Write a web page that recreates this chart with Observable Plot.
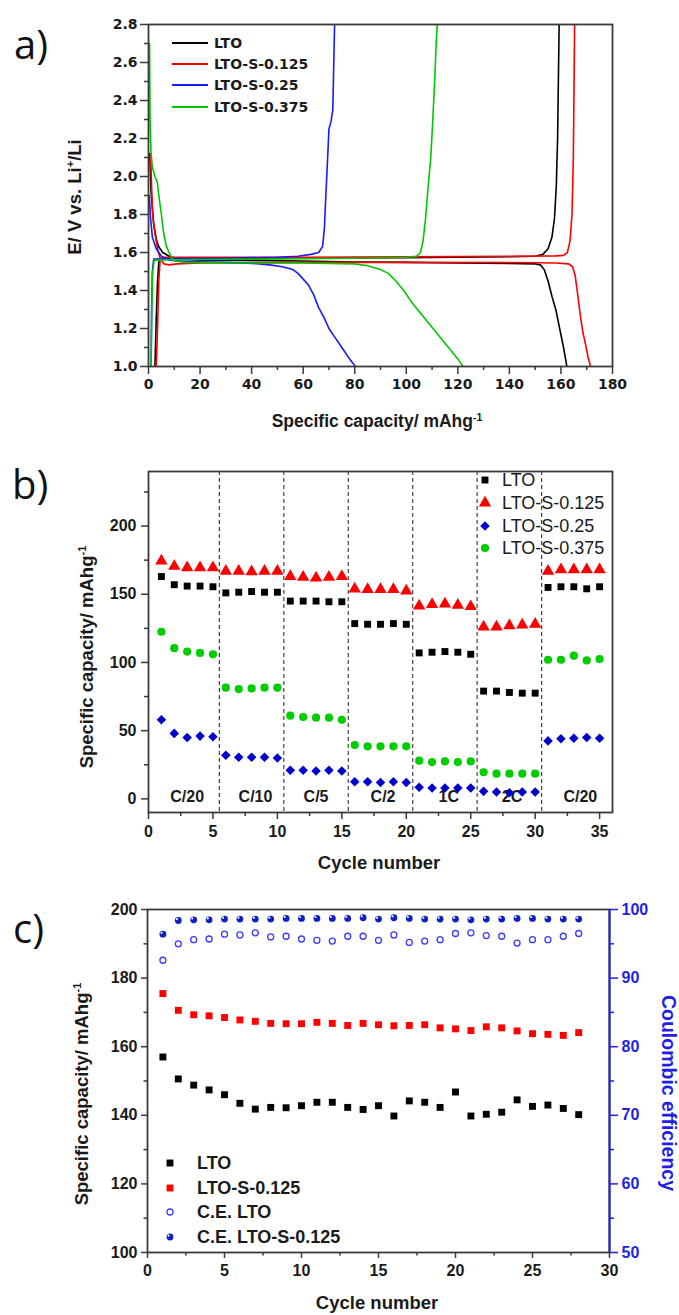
<!DOCTYPE html>
<html><head><meta charset="utf-8">
<script src="https://cdn.jsdelivr.net/npm/d3@7"></script>
<script src="https://cdn.jsdelivr.net/npm/@observablehq/plot@0.6"></script>
<style>
body{margin:0;background:#fff;}
#wrap{position:relative;width:679px;height:1315px;overflow:hidden;background:#fff;font-family:"Liberation Sans",Arial,sans-serif;color:#1a1a1a;}
.abs{position:absolute;white-space:nowrap;line-height:1;}
sup{font-size:0.6em;vertical-align:0.6em;line-height:0;}
</style></head>
<body><div id="wrap"></div>
<script>
// ---------------- Panel a: charge/discharge curves [capacity mAh/g, voltage V] ----------------
const ltoDischarge = [[0.5,2.12],[1,1.92],[2,1.75],[3,1.67],[4,1.63],[5.5,1.6],[8,1.58],[12,1.565],[20,1.56],[40,1.558],[60,1.555],[80,1.55],[100,1.548],[120,1.545],[140,1.542],[150,1.54],[152,1.535],[153.5,1.51],[155,1.45],[156.5,1.37],[158,1.3],[159.5,1.2],[161,1.1],[162.3,1.0]];
const ltoCharge = [[2.5,1.0],[3,1.25],[3.5,1.45],[4,1.55],[5,1.57],[20,1.568],[60,1.57],[100,1.572],[120,1.575],[140,1.578],[150,1.58],[153,1.59],[155,1.62],[156.5,1.68],[157.5,1.78],[158.2,1.95],[158.7,2.2],[159,2.5],[159.3,2.8]];
const s0125Discharge = [[0.8,2.12],[1.2,1.95],[1.6,1.8],[2.5,1.7],[3.5,1.62],[4.5,1.57],[6,1.54],[8,1.535],[11,1.54],[20,1.545],[60,1.548],[100,1.548],[140,1.547],[158,1.545],[163,1.54],[164.5,1.525],[165.5,1.48],[166.5,1.38],[167.5,1.27],[168.5,1.18],[169.5,1.12],[170.5,1.05],[171.5,1.0]];
const s0125Charge = [[3,1.0],[3.5,1.2],[4,1.45],[4.5,1.56],[6,1.575],[20,1.575],[60,1.575],[100,1.577],[140,1.58],[158,1.582],[161,1.585],[162.5,1.6],[163.5,1.66],[164.3,1.8],[164.8,2.1],[165.1,2.5],[165.3,2.8]];
const s025Discharge = [[0.3,1.9],[0.8,1.78],[1.5,1.68],[3,1.62],[5,1.58],[8,1.56],[15,1.553],[30,1.548],[40,1.543],[47,1.535],[52,1.525],[56,1.51],[58,1.49],[60,1.46],[62,1.43],[64,1.38],[66,1.31],[68,1.26],[70,1.2],[72,1.16],[75,1.1],[78,1.04],[80.3,1.0]];
const s025Charge = [[1,1.0],[1.2,1.3],[1.5,1.5],[2,1.565],[10,1.568],[30,1.57],[50,1.575],[58,1.58],[63,1.59],[66,1.6],[67.5,1.63],[68.2,1.72],[68.8,1.9],[69.5,2.1],[70,2.25],[70.8,2.29],[71.5,2.35],[71.8,2.55],[72.2,2.8]];
const s0375Discharge = [[0.4,2.7],[0.6,2.3],[1,2.12],[1.5,2.05],[2.5,2.0],[3.4,1.97],[4.2,1.88],[5,1.8],[5.9,1.7],[7,1.63],[8,1.6],[9,1.57],[10.5,1.555],[14,1.548],[30,1.545],[60,1.545],[80,1.54],[85,1.53],[90,1.51],[93,1.49],[96,1.45],[99,1.4],[102,1.34],[105,1.29],[108,1.24],[111,1.19],[114,1.14],[117,1.09],[120,1.04],[122,1.0]];
const s0375Charge = [[1,1.0],[1.3,1.3],[1.6,1.5],[2.2,1.56],[10,1.562],[40,1.565],[80,1.57],[100,1.575],[104,1.58],[105.5,1.6],[106.5,1.66],[107.5,1.78],[108.5,1.95],[109.5,2.1],[110.3,2.3],[111,2.5],[111.6,2.7],[112,2.8]];
const seriesNames = ["LTO","LTO-S-0.125","LTO-S-0.25","LTO-S-0.375"];
const aTicksX = [0,20,40,60,80,100,120,140,160,180];
const aMinorX = [10,30,50,70,90,110,130,150,170];
const aTicksY = [1.0,1.2,1.4,1.6,1.8,2.0,2.2,2.4,2.6,2.8];
const aMinorY = [1.1,1.3,1.5,1.7,1.9,2.1,2.3,2.5,2.7];

// ---------------- Panel b: rate capability ----------------
const cyclesB = [1,2,3,4,5,6,7,8,9,10,11,12,13,14,15,16,17,18,19,20,21,22,23,24,25,26,27,28,29,30,31,32,33,34,35];
const bLTO = [163,157,156,156,155.5,151,151.5,152,151.5,151.5,145,145,145,144.5,144.5,128.5,128,128,128.5,128,107,107.5,108,107.5,106,79,79,78,77.5,77.5,155,155.5,155.5,154,155.5];
const bS0125 = [174.5,170.5,169.5,169.5,169.5,167,167,166.5,167,167,163,162.5,162,162.5,163,154,153.5,153.5,153.5,152.5,141.5,142.5,143,142,141,126,126,127,127.5,128,167,168,168,168,168];
const bS025 = [58,48,45,46,45.5,32,30.5,30.5,30.5,30,21,21,20.5,21,20.5,12.5,12.5,12,12.5,12,8.5,8,8,8,8,5.5,5,4.5,5,5,42.5,44,44.5,45,44.5];
const bS0375 = [122.5,110.5,108,107,106,81.5,80.5,81,81.5,81.5,61,60,59.5,59.5,58,39.5,38.5,38.5,38.5,38.5,28,27,27.5,27,27.5,19.5,18.5,18.5,18.5,18.5,102,102,105,101.5,102.5];
const rateLabels = ["C/20","C/10","C/5","C/2","1C","2C","C/20"];
const rateLabelX = [3,8.3,13,18.2,23.3,28.2,33.5];
const rateBoundaries = [5.5,10.5,15.5,20.5,25.5,30.5];
const bTicksX = [0,5,10,15,20,25,30,35];
const bMinorX = [2.5,7.5,12.5,17.5,22.5,27.5,32.5];
const bTicksY = [0,50,100,150,200];
const bMinorY = [25,75,125,175,225];

// ---------------- Panel c: cycling + coulombic efficiency ----------------
const cyclesC = [1,2,3,4,5,6,7,8,9,10,11,12,13,14,15,16,17,18,19,20,21,22,23,24,25,26,27,28];
const cLTO = [157,150.6,148.8,147.4,146,143.5,141.8,142.3,142.2,142.8,143.8,143.8,142.3,141.7,142.8,139.8,144.2,143.8,142.3,146.8,139.8,140.3,140.9,144.5,142.6,143,142,140.2];
const cS0125 = [175.5,170.6,169.3,169,168.5,167.8,167.4,166.8,166.7,166.7,167.1,166.8,166.2,166.8,166.4,166.1,166.2,166.4,165.5,165.2,164.7,165.8,165.5,164.6,163.8,163.6,163.3,164.1];
const cCE_LTO = [92.6,95.0,95.6,95.7,96.4,96.3,96.6,96.0,96.1,95.7,95.5,95.4,96.1,96.1,95.5,96.3,95.2,95.4,95.6,96.5,96.6,96.2,96.1,95.1,95.6,95.6,96.1,96.5];
const cCE_S0125 = [96.4,98.4,98.5,98.5,98.6,98.6,98.6,98.6,98.7,98.7,98.7,98.7,98.7,98.8,98.6,98.8,98.7,98.6,98.6,98.6,98.5,98.6,98.6,98.7,98.7,98.6,98.6,98.6];
const cLegend = ["LTO","LTO-S-0.125","C.E. LTO","C.E. LTO-S-0.125"];
const cDomainX = [0,30];
const cDomainY = [100,200];   // left axis, capacity
const cDomainCE = [50,100];   // right axis, coulombic efficiency
const cTicksX = [0,5,10,15,20,25,30];
const cMinorX = [2.5,7.5,12.5,17.5,22.5,27.5];
const cTicksY = [100,120,140,160,180,200];
const cMinorY = [110,130,150,170,190];
const cTicksCE = [50,60,70,80,90,100];
const cMinorCE = [55,65,75,85,95];

// ---------------- styling ----------------
const SANS = '"Liberation Sans", Arial, sans-serif';
const WIDE = '"DejaVu Sans", Verdana, sans-serif';
const FRAME = "#3a3a3a";
const colA = ["#000000","#ff0000","#1a1aff","#00c800"];
const colB = {LTO:"#000000", r:"#ff0000", b:"#0000cc", g:"#00cc00"};
const BLUE = "#1f1fe6";

const wrap = document.getElementById("wrap");
function mount(svg, top){ svg.style.position="absolute"; svg.style.left="0px"; svg.style.top=top+"px"; wrap.appendChild(svg); }
function place(html, cx, cy, css, rot){
  const d=document.createElement("div"); d.className="abs"; d.innerHTML=html;
  d.style.left=cx+"px"; d.style.top=cy+"px";
  d.style.transform="translate(-50%,-50%)"+(rot?` rotate(${rot}deg)`:"");
  Object.assign(d.style, css||{}); wrap.appendChild(d);
}
function tag(txt, x, cy){
  const d=document.createElement("div"); d.className="abs"; d.textContent=txt;
  Object.assign(d.style,{left:x+"px",top:cy+"px",transform:"translateY(-50%)",fontFamily:'"Open Sans","Liberation Sans",sans-serif',fontSize:"40px",color:"#111"});
  wrap.appendChild(d);
}
function legendRow(cx, cy, textX, label, draw, css){
  const s=d3.create("svg").attr("width",40).attr("height",20)
    .style("position","absolute").style("left",(cx-20)+"px").style("top",(cy-10)+"px").style("overflow","visible");
  draw(s.append("g").attr("transform","translate(20,10)"));
  wrap.appendChild(s.node());
  const t=document.createElement("div"); t.className="abs"; t.textContent=label;
  Object.assign(t.style,{left:textX+"px",top:cy+"px",transform:"translateY(-50%)"},css);
  wrap.appendChild(t);
}
const sym = (type, r) => d3.symbol(type, Math.PI*r*r)();

function axisSet(ticksX, minorX, ticksY, minorY, o){
  const common = {label:null, stroke:FRAME, strokeWidth:1.5};
  return [
    Plot.axisX(minorX, {...common, anchor:"bottom", tickSize:o.minor, tickFormat:()=>""}),
    Plot.axisX(ticksX, {...common, anchor:"bottom", tickSize:o.major, tickPadding:o.padX, tickFormat:o.fmtX||(d=>d), fontSize:o.fs, fontWeight:"bold", fontFamily:o.font}),
    Plot.axisY(minorY, {...common, anchor:"left", tickSize:o.minor, tickFormat:()=>""}),
    Plot.axisY(ticksY, {...common, anchor:"left", tickSize:o.major, tickPadding:o.padY, tickFormat:o.fmtY||(d=>d), fontSize:o.fs, fontWeight:"bold", fontFamily:o.font})
  ];
}

// ================= Panel a =================
const curvesA = [
  {name:seriesNames[0], color:colA[0], parts:[ltoDischarge, ltoCharge]},
  {name:seriesNames[1], color:colA[1], parts:[s0125Discharge, s0125Charge]},
  {name:seriesNames[2], color:colA[2], parts:[s025Discharge, s025Charge]},
  {name:seriesNames[3], color:colA[3], parts:[s0375Discharge, s0375Charge]}
];
const plotA = Plot.plot({
  width:679, height:400, marginLeft:148, marginRight:67, marginTop:24, marginBottom:34,
  x:{domain:[0,180]}, y:{domain:[1.0,2.8]},
  style:{fontFamily:WIDE, fontSize:"14px", color:"#1a1a1a", background:"transparent", overflow:"visible"},
  marks:[
    ...curvesA.flatMap(c => c.parts.map(p => Plot.line(p, {x:d=>d[0], y:d=>d[1], stroke:c.color, strokeWidth:1.6, clip:true}))),
    ...axisSet(aTicksX, aMinorX, aTicksY, aMinorY, {major:8, minor:4, padX:5, padY:3, fs:14, font:WIDE, fmtY:d=>d.toFixed(1)}),
    Plot.frame({stroke:FRAME, strokeWidth:1.8})
  ]
});
mount(plotA, 0);
tag("a)", 14, 44);
place("Specific capacity/ mAhg<sup>-1</sup>", 377, 422, {fontWeight:"bold", fontSize:"17.5px", fontFamily:SANS});
place("E/ V vs. Li<sup>+</sup>/Li", 75, 197, {fontWeight:"bold", fontSize:"18.5px", fontFamily:SANS}, -90);
const legAy = [43,64,85,107];
curvesA.forEach((c,i)=> legendRow(190, legAy[i], 214, c.name,
  g=>g.append("line").attr("x1",-18).attr("x2",18).attr("stroke",c.color).attr("stroke-width",1.8),
  {fontFamily:WIDE, fontWeight:"bold", fontSize:"14px", color:"#1a1a1a"}));

// ================= Panel b =================
const seriesB = [
  {name:seriesNames[0], vals:bLTO, symbol:"square", r:3.9, fill:colB.LTO, d3sym:d3.symbolSquare},
  {name:seriesNames[1], vals:bS0125, symbol:"triangle", r:4.6, fill:colB.r, d3sym:d3.symbolTriangle},
  {name:seriesNames[2], vals:bS025, symbol:"diamond2", r:4.3, fill:colB.b, d3sym:d3.symbolDiamond2},
  {name:seriesNames[3], vals:bS0375, symbol:"circle", r:4.1, fill:colB.g, d3sym:d3.symbolCircle}
];
const plotB = Plot.plot({
  width:679, height:402, marginLeft:148, marginRight:67, marginTop:31, marginBottom:30,
  x:{domain:[0,36]}, y:{domain:[-10,240]},
  style:{fontFamily:SANS, fontSize:"16px", color:"#1a1a1a", background:"transparent", overflow:"visible"},
  marks:[
    Plot.ruleX(rateBoundaries, {stroke:"#444", strokeDasharray:"4,3", strokeWidth:1.2}),
    Plot.text(rateLabels, {x:(d,i)=>rateLabelX[i], frameAnchor:"bottom", dy:-11, text:d=>d, fontSize:16, fontWeight:"bold", fontFamily:SANS, fill:"#1a1a1a"}),
    ...seriesB.map(s => Plot.dot(cyclesB, {x:d=>d, y:(d,i)=>s.vals[i], symbol:s.symbol, r:s.r, fill:s.fill, stroke:"none"})),
    ...axisSet(bTicksX, bMinorX, bTicksY, bMinorY, {major:7, minor:4, padX:6, padY:5, fs:16, font:SANS}),
    Plot.frame({stroke:FRAME, strokeWidth:1.8})
  ]
});
mount(plotB, 440);
tag("b)", 12, 484);
place("Cycle number", 379, 863, {fontWeight:"bold", fontSize:"18.5px", fontFamily:SANS});
place("Specific capacity/ mAhg<sup>-1</sup>", 87, 657, {fontWeight:"bold", fontSize:"18.5px", fontFamily:SANS}, -90);
const legBy = [480,503,526,548];
seriesB.forEach((s,i)=> legendRow(485, legBy[i], 502, s.name,
  g=>g.append("path").attr("d", sym(s.d3sym, s.r)).attr("fill", s.fill),
  {fontFamily:SANS, fontSize:"18px", color:"#1a1a1a"}));

// ================= Panel c =================
const ceToY = v => cDomainY[0] + (v - cDomainCE[0]) * (cDomainY[1]-cDomainY[0])/(cDomainCE[1]-cDomainCE[0]);
const yToCe = y => cDomainCE[0] + (y - cDomainY[0]) * (cDomainCE[1]-cDomainCE[0])/(cDomainY[1]-cDomainY[0]);
const CE_OPEN = "#3a3aff", CE_FILL = "#0c1fc4";
const plotC = Plot.plot({
  width:679, height:407, marginLeft:147, marginRight:70, marginTop:29, marginBottom:35,
  x:{domain:cDomainX}, y:{domain:cDomainY},
  style:{fontFamily:SANS, fontSize:"16px", color:"#1a1a1a", background:"transparent", overflow:"visible"},
  marks:[
    Plot.dot(cyclesC, {x:d=>d, y:(d,i)=>cLTO[i], symbol:"square", r:3.9, fill:"#000", stroke:"none"}),
    Plot.dot(cyclesC, {x:d=>d, y:(d,i)=>cS0125[i], symbol:"square", r:3.9, fill:"#ff0000", stroke:"none"}),
    Plot.dot(cyclesC, {x:d=>d, y:(d,i)=>ceToY(cCE_LTO[i]), r:3, fill:"none", stroke:CE_OPEN, strokeWidth:1.3}),
    Plot.dot(cyclesC, {x:d=>d, y:(d,i)=>ceToY(cCE_S0125[i]), r:3.4, fill:CE_FILL, stroke:"none"}),
    Plot.dot(cyclesC, {x:d=>d, y:(d,i)=>ceToY(cCE_S0125[i]), r:1.1, fill:"#fff", dx:-1.4, dy:-1.4, stroke:"none"}),
    ...axisSet(cTicksX, cMinorX, cTicksY, cMinorY, {major:6, minor:3.5, padX:6, padY:4, fs:16, font:SANS}),
    Plot.axisY(cMinorCE.map(ceToY), {anchor:"right", label:null, stroke:BLUE, strokeWidth:1.5, tickSize:4, tickFormat:()=>""}),
    Plot.axisY(cTicksCE.map(ceToY), {anchor:"right", label:null, stroke:BLUE, fill:BLUE, strokeWidth:1.5, tickSize:8, tickPadding:4, tickFormat:d=>yToCe(d), fontSize:16, fontWeight:"bold", fontFamily:SANS}),
    Plot.frame({stroke:FRAME, strokeWidth:1.8}),
    Plot.ruleX([cDomainX[1]], {stroke:BLUE, strokeWidth:2})
  ]
});
mount(plotC, 880);
tag("c)", 13, 928);
place("Cycle number", 377, 1303, {fontWeight:"bold", fontSize:"18.5px", fontFamily:SANS});
place("Specific capacity/ mAhg<sup>-1</sup>", 82, 1094, {fontWeight:"bold", fontSize:"18.5px", fontFamily:SANS}, -90);
place("Coulombic efficiency", 668, 1093, {fontWeight:"bold", fontSize:"19.5px", fontFamily:SANS, color:BLUE}, 90);
const legCy = [1163,1188,1212,1237];
const legCdraw = [
  g=>g.append("path").attr("d", sym(d3.symbolSquare,3.9)).attr("fill","#000"),
  g=>g.append("path").attr("d", sym(d3.symbolSquare,3.9)).attr("fill","#ff0000"),
  g=>g.append("circle").attr("r",3).attr("fill","none").attr("stroke",CE_OPEN).attr("stroke-width",1.3),
  g=>{g.append("circle").attr("r",3.4).attr("fill",CE_FILL); g.append("circle").attr("r",1.1).attr("cx",-1.4).attr("cy",-1.4).attr("fill","#fff");}
];
cLegend.forEach((name,i)=> legendRow(170, legCy[i], 197, name, legCdraw[i],
  {fontFamily:SANS, fontWeight:"bold", fontSize:"18px", color:"#1a1a1a"}));
</script>
</body></html>
